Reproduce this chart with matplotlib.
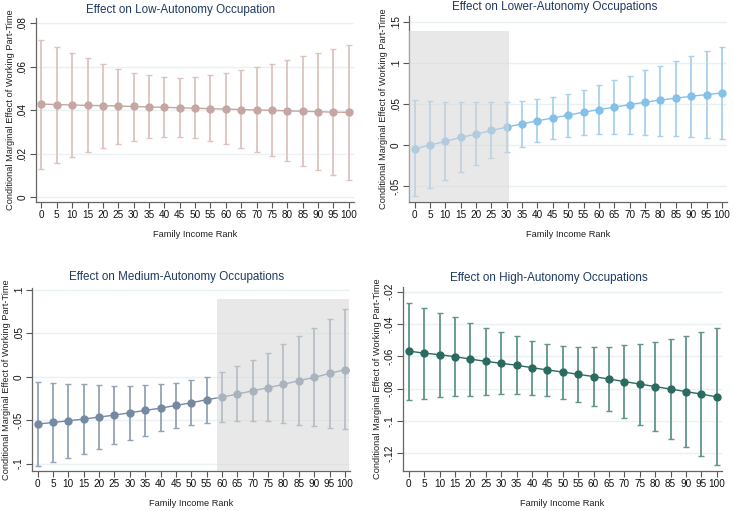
import matplotlib
matplotlib.use("Agg")
import matplotlib.pyplot as plt
import numpy as np

plt.rcParams["font.family"] = ["Liberation Sans", "DejaVu Sans"]

ranks = list(range(0, 101, 5))

# Low-autonomy
low_est = [0.0428, 0.0426, 0.0424, 0.0422, 0.0421, 0.0419, 0.0417, 0.0415, 0.0413, 0.0411,
           0.0409, 0.0407, 0.0405, 0.0403, 0.0401, 0.0399, 0.0397, 0.0395, 0.0393, 0.0391, 0.0390]
low_hi = [0.0724, 0.0690, 0.0665, 0.0638, 0.0613, 0.0590, 0.0573, 0.0560, 0.0553, 0.0550,
          0.0553, 0.0560, 0.0570, 0.0583, 0.0598, 0.0613, 0.0630, 0.0648, 0.0665, 0.0681, 0.0698]
low_lo = [0.0130, 0.0157, 0.0183, 0.0206, 0.0226, 0.0245, 0.0260, 0.0270, 0.0277, 0.0277,
          0.0270, 0.0258, 0.0243, 0.0225, 0.0207, 0.0188, 0.0165, 0.0145, 0.0123, 0.0101, 0.0080]

# Lower-autonomy
lower_est = [-0.0048, 0.0000, 0.0044, 0.0093, 0.0133, 0.0177, 0.0218, 0.0258, 0.0294, 0.0330,
             0.0363, 0.0400, 0.0431, 0.0460, 0.0492, 0.0520, 0.0548, 0.0569, 0.0593, 0.0613, 0.0633]
lower_hi = [0.0544, 0.0532, 0.0528, 0.0524, 0.0520, 0.0520, 0.0520, 0.0536, 0.0556, 0.0589,
            0.0625, 0.0673, 0.0730, 0.0786, 0.0843, 0.0907, 0.0964, 0.1024, 0.1085, 0.1141, 0.1190]
lower_lo = [-0.0625, -0.0524, -0.0427, -0.0330, -0.0238, -0.0157, -0.0089, -0.0020, 0.0032, 0.0069,
            0.0101, 0.0121, 0.0129, 0.0129, 0.0129, 0.0125, 0.0113, 0.0105, 0.0101, 0.0089, 0.0073]

# Medium-autonomy
med_est = [-0.0546, -0.0527, -0.0508, -0.0488, -0.0465, -0.0442, -0.0415, -0.0388, -0.0362, -0.0331,
           -0.0300, -0.0265, -0.0235, -0.0200, -0.0162, -0.0127, -0.0088, -0.0046, -0.0008, 0.0038, 0.0081]
med_hi = [-0.0065, -0.0073, -0.0081, -0.0088, -0.0100, -0.0104, -0.0108, -0.0100, -0.0088, -0.0069,
          -0.0042, 0.0000, 0.0054, 0.0119, 0.0192, 0.0277, 0.0373, 0.0465, 0.0565, 0.0669, 0.0777]
med_lo = [-0.1027, -0.0977, -0.0931, -0.0885, -0.0831, -0.0781, -0.0731, -0.0681, -0.0631, -0.0592,
          -0.0562, -0.0538, -0.0527, -0.0515, -0.0512, -0.0515, -0.0538, -0.0554, -0.0573, -0.0588, -0.0608]

# High-autonomy
high_est = [-0.0568, -0.0580, -0.0590, -0.0602, -0.0617, -0.0631, -0.0643, -0.0655, -0.0670, -0.0684,
            -0.0697, -0.0711, -0.0725, -0.0740, -0.0756, -0.0771, -0.0787, -0.0802, -0.0818, -0.0833, -0.0851]
high_hi = [-0.0270, -0.0301, -0.0331, -0.0360, -0.0393, -0.0422, -0.0450, -0.0477, -0.0504, -0.0522,
           -0.0534, -0.0542, -0.0545, -0.0540, -0.0532, -0.0522, -0.0510, -0.0491, -0.0473, -0.0450, -0.0425]
high_lo = [-0.0867, -0.0861, -0.0854, -0.0848, -0.0842, -0.0838, -0.0834, -0.0834, -0.0838, -0.0848,
           -0.0861, -0.0879, -0.0908, -0.0939, -0.0978, -0.1021, -0.1064, -0.1112, -0.1163, -0.1216, -0.1274]

TITLE_COLOR = "#1f3a60"


def stata_fmt(v):
    s = f"{v:g}"
    if s.startswith("0."):
        s = s[1:]
    elif s.startswith("-0."):
        s = "-" + s[2:]
    return s


def draw_panel(fig, rect, est, lo, hi, color, ecolor, yticks, ylim, title, title_xy, shade=None):
    ax = fig.add_axes(rect)
    est = np.array(est)
    lo = np.array(lo)
    hi = np.array(hi)
    ax.errorbar(ranks, est, yerr=[est - lo, hi - est], fmt="none", ecolor=ecolor,
                elinewidth=1.3, capsize=2.5, capthick=1.0, zorder=2)
    ax.plot(ranks, est, color=color, lw=1.0, zorder=3)
    ax.plot(ranks, est, "o", color=color, ms=5, zorder=4)
    if shade is not None:
        x0, x1, top = shade
        ax.fill_between([x0, x1], [ylim[0]] * 2, [top] * 2, color="#d6d6d6",
                        alpha=0.55, lw=0, zorder=5)
    ax.set_xlim(-1.8, 101.7)
    ax.set_ylim(*ylim)
    ax.set_xticks(ranks)
    ax.set_yticks(yticks)
    ax.set_yticklabels([stata_fmt(v) for v in yticks], rotation=90, va="center")
    for v in yticks:
        ax.axhline(v, color="#eaf1f3", lw=1.0, zorder=0)
    ax.tick_params(labelsize=7.2, length=4, color="#555555", labelcolor="#111111", pad=2)
    for side in ("top", "right"):
        ax.spines[side].set_visible(False)
    for side in ("left", "bottom"):
        ax.spines[side].set_color("#666666")
        ax.spines[side].set_linewidth(0.9)
    ax.set_xlabel("Family Income Rank", fontsize=6.7, color="#222222", labelpad=7)
    ax.set_ylabel("Conditional Marginal Effect of Working Part-Time", fontsize=6.7,
                  color="#222222", labelpad=2)
    fig.text(title_xy[0] / 733, 1 - title_xy[1] / 511, title, ha="center", va="center",
             fontsize=8.4, color=TITLE_COLOR)
    return ax


fig = plt.figure(figsize=(7.33, 5.11), dpi=100)

draw_panel(fig, [0.049, 0.605, 0.434, 0.360], low_est, low_lo, low_hi,
           "#c6a6a2", "#dcc3c0", [0, 0.02, 0.04, 0.06, 0.08], (-0.0022, 0.0825),
           "Effect on Low-Autonomy Occupation", (181, 10))
draw_panel(fig, [0.558, 0.605, 0.434, 0.364], lower_est, lower_lo, lower_hi,
           "#84c0e8", "#a8d1ee", [-0.05, 0, 0.05, 0.1, 0.15], (-0.069, 0.157),
           "Effect on Lower-Autonomy Occupations", (555, 7), shade=(-1.8, 30.8, 0.139))
draw_panel(fig, [0.0437, 0.078, 0.434, 0.358], med_est, med_lo, med_hi,
           "#7589a0", "#93a3b4", [-0.1, -0.05, 0, 0.05, 0.1], (-0.1088, 0.102),
           "Effect on Medium-Autonomy Occupations", (177, 277), shade=(58.3, 101.2, 0.0892))
draw_panel(fig, [0.550, 0.078, 0.435, 0.360], high_est, high_lo, high_hi,
           "#2b6b5f", "#5f958b", [-0.12, -0.1, -0.08, -0.06, -0.04, -0.02], (-0.1309, -0.0173),
           "Effect on High-Autonomy Occupations", (549, 278))

fig.savefig("out.png", dpi=100)
